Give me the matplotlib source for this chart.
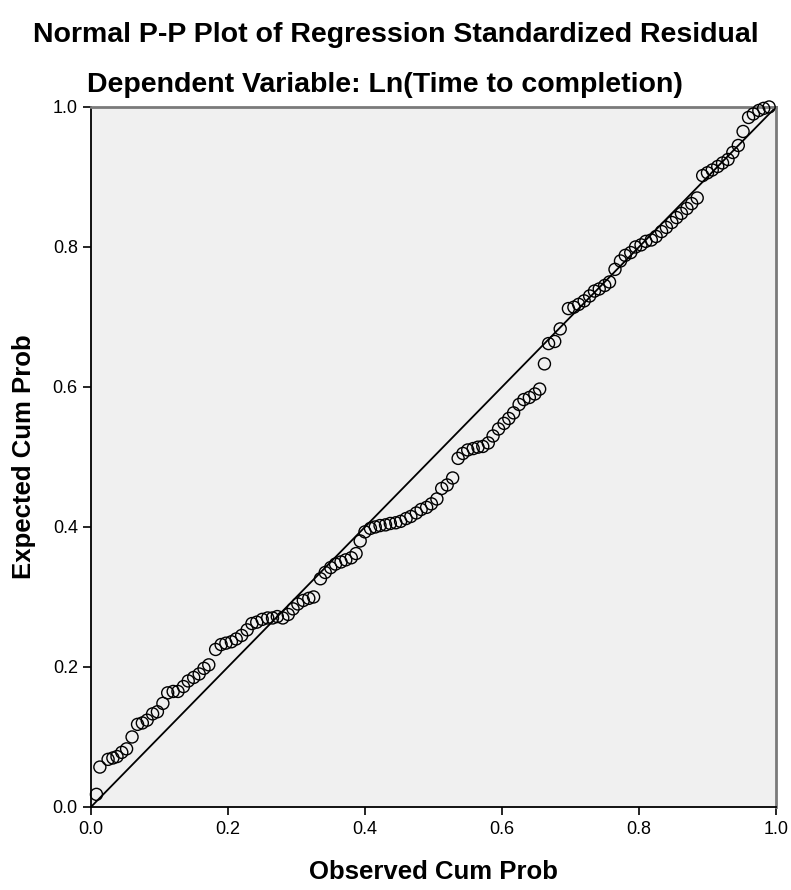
import numpy as np
import matplotlib.pyplot as plt

plt.rcParams['font.family'] = ['Liberation Sans', 'DejaVu Sans']

# Observed cum prob (x) and expected cum prob (y)
observed = [0.008, 0.013, 0.025, 0.032, 0.038, 0.045, 0.052, 0.060, 0.068, 0.075,
            0.082, 0.090, 0.097, 0.105, 0.112, 0.120, 0.127, 0.135, 0.142, 0.150,
            0.158, 0.165, 0.172, 0.182, 0.190, 0.197, 0.205, 0.212, 0.220, 0.228,
            0.235, 0.242, 0.250, 0.258, 0.265, 0.272, 0.280, 0.288, 0.295, 0.302,
            0.310, 0.318, 0.325, 0.335, 0.342, 0.350, 0.357, 0.365, 0.372, 0.380,
            0.387, 0.393, 0.400, 0.408, 0.415, 0.422, 0.430, 0.437, 0.445, 0.452,
            0.460, 0.467, 0.475, 0.482, 0.490, 0.497, 0.505, 0.512, 0.520, 0.528,
            0.536, 0.543, 0.550, 0.558, 0.565, 0.572, 0.580, 0.587, 0.595, 0.603,
            0.610, 0.617, 0.625, 0.632, 0.640, 0.648, 0.655, 0.662, 0.668, 0.677,
            0.685, 0.697, 0.705, 0.712, 0.720, 0.728, 0.735, 0.742, 0.750, 0.757,
            0.765, 0.773, 0.780, 0.788, 0.795, 0.803, 0.810, 0.818, 0.825, 0.833,
            0.840, 0.848, 0.855, 0.862, 0.870, 0.877, 0.885, 0.893, 0.900, 0.907,
            0.915, 0.922, 0.930, 0.937, 0.945, 0.952, 0.960, 0.967, 0.975, 0.982,
            0.990]
expected = [0.018, 0.057, 0.068, 0.070, 0.072, 0.078, 0.083, 0.100, 0.118, 0.120,
            0.124, 0.133, 0.136, 0.148, 0.163, 0.165, 0.165, 0.172, 0.180, 0.185,
            0.190, 0.198, 0.203, 0.225, 0.232, 0.234, 0.236, 0.240, 0.245, 0.253,
            0.262, 0.264, 0.268, 0.270, 0.270, 0.272, 0.270, 0.275, 0.283, 0.290,
            0.295, 0.298, 0.300, 0.326, 0.335, 0.342, 0.347, 0.350, 0.353, 0.356,
            0.362, 0.380, 0.393, 0.398, 0.400, 0.402, 0.403, 0.405, 0.406, 0.408,
            0.412, 0.415, 0.420, 0.425, 0.428, 0.433, 0.440, 0.455, 0.460, 0.470,
            0.498, 0.505, 0.510, 0.512, 0.514, 0.515, 0.520, 0.530, 0.540, 0.548,
            0.555, 0.563, 0.575, 0.582, 0.585, 0.590, 0.597, 0.633, 0.662, 0.665,
            0.683, 0.712, 0.714, 0.718, 0.723, 0.730, 0.737, 0.740, 0.745, 0.750,
            0.768, 0.780, 0.788, 0.792, 0.800, 0.803, 0.808, 0.810, 0.815, 0.822,
            0.828, 0.835, 0.842, 0.848, 0.855, 0.862, 0.870, 0.902, 0.906, 0.910,
            0.915, 0.920, 0.925, 0.935, 0.945, 0.965, 0.985, 0.990, 0.995, 0.998,
            1.000]
ticks = [0.0, 0.2, 0.4, 0.6, 0.8, 1.0]
tick_labels = ["0.0", "0.2", "0.4", "0.6", "0.8", "1.0"]

fig = plt.figure(figsize=(7.91, 8.9), dpi=100)
ax = fig.add_axes([0.115, 0.0933, 0.866, 0.7865])
ax.set_facecolor('#f0f0f0')

# reference line
ax.plot([0, 1], [0, 1], color='black', linewidth=1.3, zorder=2)
ax.scatter(observed, expected, s=75, facecolors='none', edgecolors='black',
           linewidths=1.0, zorder=3, clip_on=False)

ax.set_xlim(0, 1)
ax.set_ylim(0, 1)
ax.set_xticks(ticks)
ax.set_xticklabels(tick_labels)
ax.set_yticks(ticks)
ax.set_yticklabels(tick_labels)
ax.tick_params(axis='both', direction='out', length=6, width=1.2, labelsize=13,
               colors='black')
ax.tick_params(axis='x', pad=4)

for side in ['left', 'bottom']:
    ax.spines[side].set_color('black')
    ax.spines[side].set_linewidth(1.3)
for side in ['top', 'right']:
    ax.spines[side].set_color('#7a7a7a')
    ax.spines[side].set_linewidth(2)

ax.set_xlabel("Observed Cum Prob", fontsize=18.5, fontweight='bold', labelpad=16)
ax.set_ylabel("Expected Cum Prob", fontsize=18.5, fontweight='bold', labelpad=12)

fig.text(0.5, 0.961, "Normal P-P Plot of Regression Standardized Residual",
         ha='center', va='center', fontsize=20.5, fontweight='bold')
fig.text(0.487, 0.904, "Dependent Variable: Ln(Time to completion)",
         ha='center', va='center', fontsize=20.5, fontweight='bold')

fig.savefig("out.png", dpi=100)
